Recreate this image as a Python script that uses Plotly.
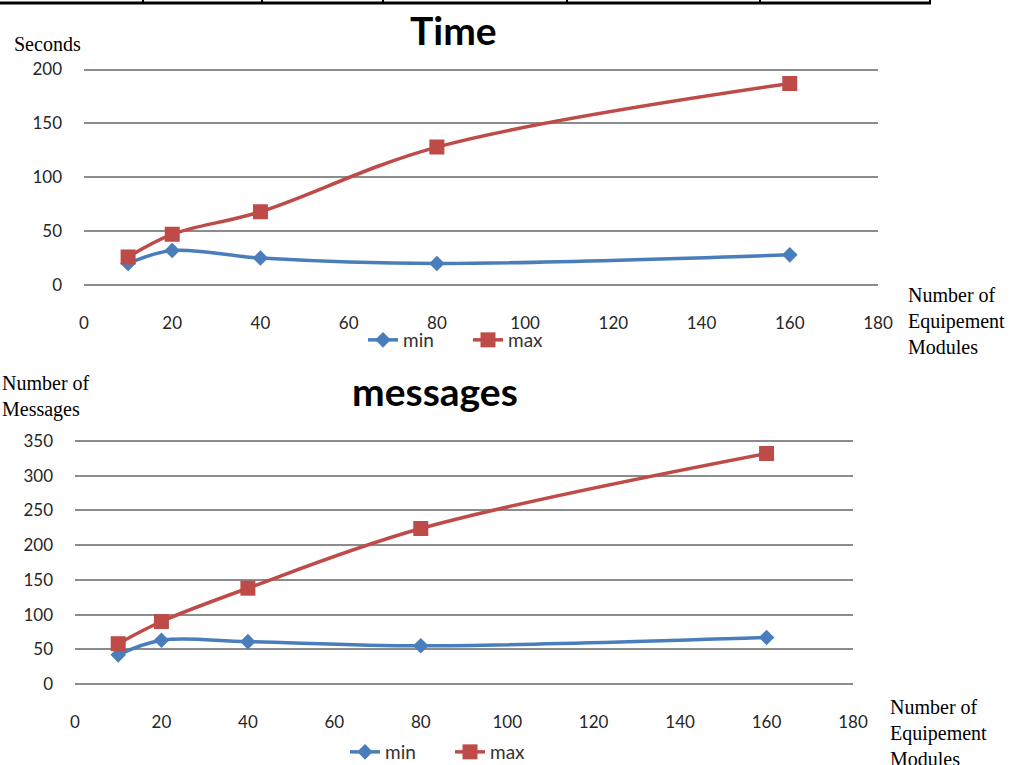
import plotly.graph_objects as go

W, H = 1016, 765

modules = [10, 20, 40, 80, 160]
time_min = [20, 32, 25, 20, 28]
time_max = [26, 47, 68, 128, 187]
msg_min = [42, 63, 61, 55, 67]
msg_max = [58, 90, 138, 224, 332]

x_ticks = [0, 20, 40, 60, 80, 100, 120, 140, 160, 180]
time_ticks = [0, 50, 100, 150, 200]
msg_ticks = [0, 50, 100, 150, 200, 250, 300, 350]

BLUE = "#4A7EBB"
RED = "#BE4B48"
GRID = "#8c8c8c"
TICKFONT = dict(family="Lato, Open Sans, sans-serif", size=17, color="#262626")
SERIF = "Liberation Serif, Times New Roman, serif"


def px_x(p):
    return p / W


def px_y(p):
    return 1 - p / H


def y_layout(lo_px, hi_px, vmax, pad_units):
    """Domain and range so that 0 maps to lo_px and vmax to hi_px,
    padded slightly so the edge gridlines are drawn."""
    ppu = (lo_px - hi_px) / vmax
    dom = [px_y(lo_px + pad_units * ppu), px_y(hi_px - pad_units * ppu)]
    rng = [-pad_units, vmax + pad_units]
    return dom, rng


fig = go.Figure()

fig.add_trace(go.Scatter(x=modules, y=time_min, name="min", mode="lines+markers",
                         line=dict(color=BLUE, width=3.5, shape="spline"),
                         marker=dict(symbol="diamond", size=12, color=BLUE),
                         xaxis="x", yaxis="y", legend="legend"))
fig.add_trace(go.Scatter(x=modules, y=time_max, name="max", mode="lines+markers",
                         line=dict(color=RED, width=3.5, shape="spline"),
                         marker=dict(symbol="square", size=15, color=RED),
                         xaxis="x", yaxis="y", legend="legend"))
fig.add_trace(go.Scatter(x=modules, y=msg_min, name="min", mode="lines+markers",
                         line=dict(color=BLUE, width=3.5, shape="spline"),
                         marker=dict(symbol="diamond", size=12, color=BLUE),
                         xaxis="x2", yaxis="y2", legend="legend2"))
fig.add_trace(go.Scatter(x=modules, y=msg_max, name="max", mode="lines+markers",
                         line=dict(color=RED, width=3.5, shape="spline"),
                         marker=dict(symbol="square", size=15, color=RED),
                         xaxis="x2", yaxis="y2", legend="legend2"))

xcommon = dict(range=[0, 180], tickvals=x_ticks, showgrid=False, zeroline=False,
               showline=False, ticks="", tickfont=TICKFONT, ticklabelstandoff=24)
ycommon = dict(showgrid=True, gridcolor=GRID, gridwidth=1.5, zeroline=False,
               showline=False, ticks="", tickfont=TICKFONT, ticklabelstandoff=21)

dom1, rng1 = y_layout(285, 69.5, 200, 2)
dom2, rng2 = y_layout(684, 441, 350, 3)

legfont = dict(family="Lato, sans-serif", size=19, color="#333333")

fig.update_layout(
    width=W, height=H,
    margin=dict(l=0, r=0, t=0, b=0, autoexpand=False),
    paper_bgcolor="white", plot_bgcolor="white",
    xaxis=dict(domain=[px_x(84), px_x(878)], anchor="y", **xcommon),
    yaxis=dict(domain=dom1, range=rng1, tickvals=time_ticks, anchor="x", **ycommon),
    xaxis2=dict(domain=[px_x(75), px_x(853)], anchor="y2", **xcommon),
    yaxis2=dict(domain=dom2, range=rng2, tickvals=msg_ticks, anchor="x2", **ycommon),
    legend=dict(orientation="h", x=px_x(468), y=px_y(340), xanchor="center", yanchor="middle",
                font=legfont, bgcolor="rgba(0,0,0,0)", itemwidth=30, tracegroupgap=0,
                entrywidth=60),
    legend2=dict(orientation="h", x=px_x(450), y=px_y(752), xanchor="center", yanchor="middle",
                 font=legfont, bgcolor="rgba(0,0,0,0)", itemwidth=30, tracegroupgap=0,
                 entrywidth=60),
    showlegend=True,
)

annotations = [
    dict(text="<b>Time</b>", x=px_x(453), y=px_y(30), font=dict(family="Lato, sans-serif", size=39, color="black")),
    dict(text="<b>messages</b>", x=px_x(435), y=px_y(391), font=dict(family="Lato, sans-serif", size=39, color="black")),
    dict(text="Seconds", x=px_x(12), y=px_y(44), xanchor="left",
         font=dict(family=SERIF, size=20, color="black")),
    dict(text="Number of<br>Messages", x=px_x(0), y=px_y(396), xanchor="left", align="left",
         font=dict(family=SERIF, size=20, color="black")),
    dict(text="Number of<br>Equipement<br>Modules", x=px_x(906), y=px_y(321), xanchor="left", align="left",
         font=dict(family=SERIF, size=20, color="black")),
    dict(text="Number of<br>Equipement<br>Modules", x=px_x(888), y=px_y(733), xanchor="left", align="left",
         font=dict(family=SERIF, size=20, color="black")),
]
for a in annotations:
    a.update(xref="paper", yref="paper", showarrow=False, yanchor="middle")
    a.setdefault("xanchor", "center")
fig.update_layout(annotations=annotations)

shapes = [dict(type="line", xref="paper", yref="paper", x0=0, x1=px_x(931), y0=px_y(3), y1=px_y(3),
               line=dict(color="black", width=3))]
for vx in [143, 262, 383, 567, 760, 930]:
    shapes.append(dict(type="line", xref="paper", yref="paper", x0=px_x(vx), x1=px_x(vx),
                       y0=px_y(0), y1=px_y(4), line=dict(color="black", width=2)))
fig.update_layout(shapes=shapes)

fig.write_html("out.html", config={"displayModeBar": False},
               post_script="document.body.style.margin='0';document.body.style.overflow='hidden';")
